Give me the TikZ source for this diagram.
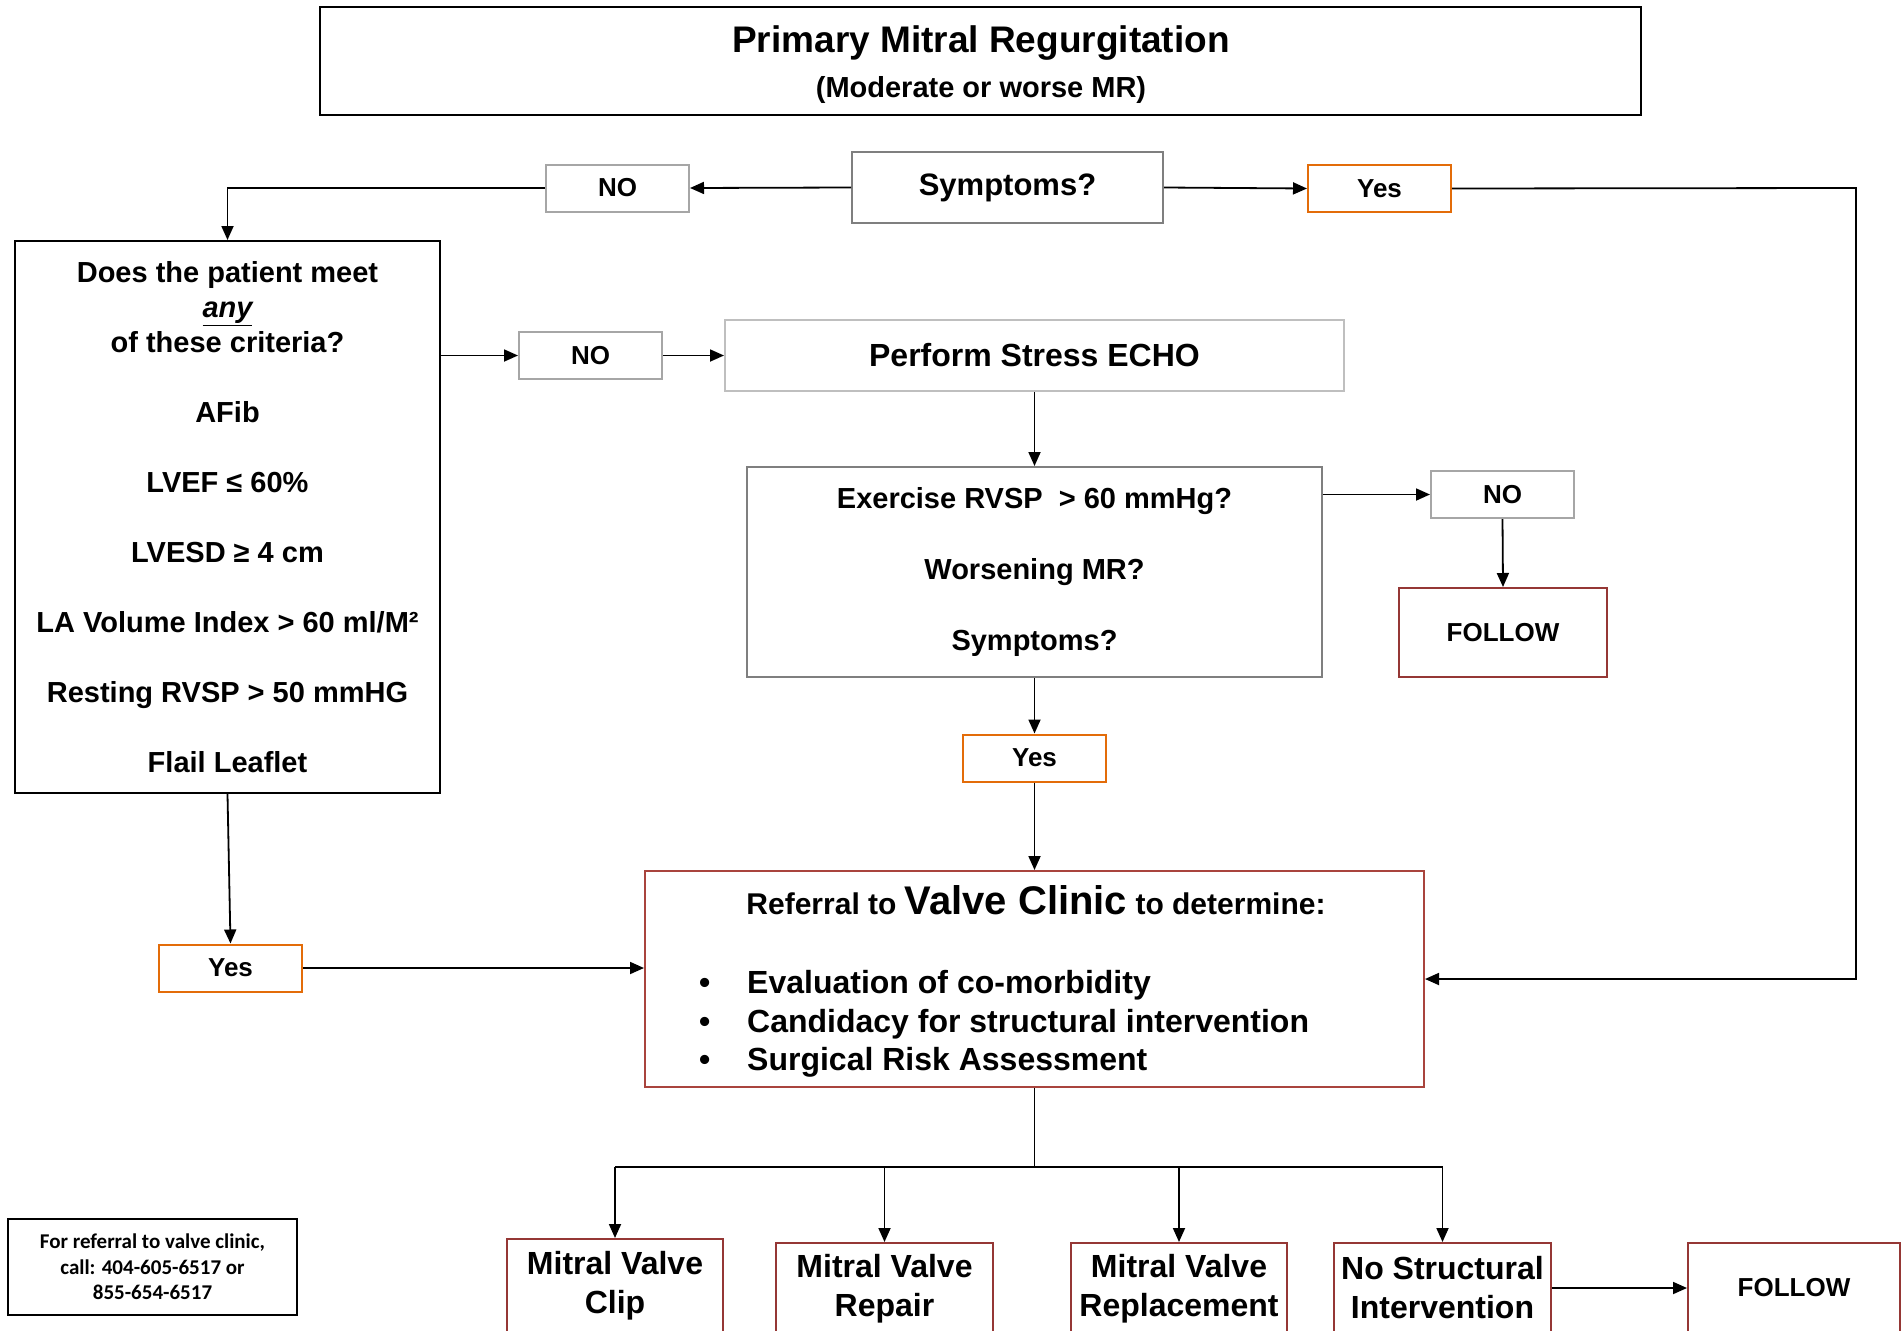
\documentclass[tikz,border=0pt]{standalone}
\usepackage{fontspec}
\setmainfont{Liberation Sans}
\newfontfamily\phonefont{Carlito}
\usetikzlibrary{arrows.meta}
\definecolor{orng}{HTML}{E36C09}
\definecolor{dred}{HTML}{953735}
\definecolor{rred}{HTML}{A9443D}
\definecolor{gmid}{HTML}{7F7F7F}
\definecolor{glight}{HTML}{A6A6A6}
\definecolor{glighter}{HTML}{BFBFBF}
\newcommand\fsz[2]{\fontsize{#1}{#2}\selectfont}
\begin{document}
\begin{tikzpicture}[x=1pt,y=-1pt,
  box/.style={draw, line width=2pt, inner sep=0pt, align=center, font=\bfseries},
  blackbox/.style={box, draw=black},
  graybox/.style={box, draw=gmid},
  lgraybox/.style={box, draw=glight},
  llgraybox/.style={box, draw=glighter},
  orangebox/.style={box, draw=orng},
  redbox/.style={box, draw=dred},
  refbox/.style={box, draw=rred},
  small/.style={minimum width=143pt, minimum height=47pt, font=\bfseries\fsz{26}{31}},
  txt/.style={inner sep=0pt, align=center, font=\bfseries},
  arr/.style={line width=1.8pt, -{Triangle[length=14pt,width=12pt]}},
  ln/.style={line width=1.8pt}
]
\useasboundingbox (0,0) rectangle (1902,1330);
\clip (0,0) rectangle (1902,1330);

% title
\node[blackbox, minimum width=1321pt, minimum height=108pt] (title) at (980.5,61) {};
\node[txt, font=\bfseries\fsz{29}{45}] (titletext) at (981,65)
  {{\fsz{37}{45}Primary Mitral Regurgitation}\\(Moderate or worse MR)};

% top row
\node[graybox, minimum width=311pt, minimum height=71pt, font=\bfseries\fsz{31}{37}] (sym) at (1007.5,187.5) {Symptoms?};
\node[lgraybox, small] (no1) at (617.5,188) {NO};
\node[orangebox, small] (yes1) at (1379.5,188.5) {Yes};

% criteria box
\node[blackbox, minimum width=425pt, minimum height=552pt, font=\bfseries\fsz{29}{35}] (crit) at (227.5,517)
  {Does the patient meet\\\underline{\itshape any}\\of these criteria?\\[35pt]
   AFib\\[35pt]LVEF ≤ 60\%\\[35pt]LVESD ≥ 4 cm\\[35pt]LA Volume Index > 60 ml/M²\\[35pt]
   Resting RVSP > 50 mmHG\\[35pt]Flail Leaflet};

\node[lgraybox, small] (no2) at (590.5,355.5) {NO};
\node[llgraybox, minimum width=619pt, minimum height=71pt, font=\bfseries\fsz{32}{38}] (perf) at (1034.5,355.5) {Perform Stress ECHO};

\node[graybox, minimum width=575pt, minimum height=210pt, font=\bfseries\fsz{29}{35}] (ex) at (1034.5,572)
  {Exercise RVSP \ > 60 mmHg?\\[36pt]Worsening MR?\\[36pt]Symptoms?};

\node[lgraybox, small] (no3) at (1502.5,494.5) {NO};
\node[redbox, minimum width=208pt, minimum height=89pt, font=\bfseries\fsz{26}{31}] (fol1) at (1503,632.5) {FOLLOW};

\node[orangebox, small] (yes2) at (1034.5,758) {Yes};
\node[orangebox, small] (yes3) at (230.5,968) {Yes};

% referral
\node[refbox, minimum width=779pt, minimum height=216pt] (ref) at (1034.5,979) {};
\node[txt] (refhead) at (1036,900)
  {{\fsz{30}{36}Referral to }{\fsz{40}{48}Valve Clinic}{\fsz{30}{36} to determine:}};
\node[txt, align=left, anchor=west, font=\bfseries\fsz{32}{38.5}] (reflist) at (699,1024)
  {\makebox[48pt][l]{\textbullet}Evaluation of co-morbidity\\
   \makebox[48pt][l]{\textbullet}Candidacy for structural intervention\\
   \makebox[48pt][l]{\textbullet}Surgical Risk Assessment};

% phone
\node[blackbox, minimum width=289pt, minimum height=96pt, font=\phonefont\bfseries\fsz{21}{25.5}] (phone) at (152.5,1267)
  {For referral to valve clinic,\\call: 404-605-6517 or\\855-654-6517};

% bottom boxes
\node[redbox, minimum width=216pt, minimum height=150pt, anchor=north] (clipbox) at (615,1238) {};
\node[txt, font=\bfseries\fsz{32}{39}] (cliptext) at (615,1285.5) {Mitral Valve\\Clip};
\node[redbox, minimum width=217pt, minimum height=150pt, anchor=north] (repbox) at (884.5,1242) {};
\node[txt, font=\bfseries\fsz{32}{39}] (reptext) at (884.5,1288.5) {Mitral Valve\\Repair};
\node[redbox, minimum width=216pt, minimum height=150pt, anchor=north] (rplbox) at (1179,1242) {};
\node[txt, font=\bfseries\fsz{32}{39}] (rpltext) at (1179,1288.5) {Mitral Valve\\Replacement};
\node[redbox, minimum width=217pt, minimum height=150pt, anchor=north] (nsbox) at (1442.5,1242) {};
\node[txt, font=\bfseries\fsz{32}{39}] (nstext) at (1442.5,1287.5) {No Structural\\Intervention};
\node[redbox, minimum width=212pt, minimum height=150pt, anchor=north] (fbbox) at (1794,1242) {};
\node[txt, font=\bfseries\fsz{26}{31}] (fbtext) at (1794,1288) {FOLLOW};

\coordinate (rt) at (1856,188);
\coordinate (jn) at (1034.5,1167);

% connectors
\draw[arr] (sym.west) -- (no1.east);
\draw[arr] (no1.west) -| (crit.north);
\draw[arr] (sym.east) -- (yes1.west);
\draw[arr] (yes1.east) -- (rt) |- (ref.east);
\draw[arr] (no2.west -| crit.east) -- (no2.west);
\draw[arr] (no2.east) -- (perf.west);
\draw[arr] (perf.south) -- (ex.north);
\draw[arr] (no3.west -| ex.east) -- (no3.west);
\draw[arr] (no3.south) -- (fol1.north);
\draw[arr] (ex.south) -- (yes2.north);
\draw[arr] (yes2.south) -- (ref.north);
\draw[arr] (crit.south) -- (yes3.north);
\draw[arr] (yes3.east) -- (yes3.east -| ref.west);
\draw[ln] (ref.south) -- (jn);
\draw[ln] (clipbox.north |- jn) -- (nsbox.north |- jn);
\draw[arr] (clipbox.north |- jn) -- (clipbox.north);
\draw[arr] (repbox.north |- jn) -- (repbox.north);
\draw[arr] (rplbox.north |- jn) -- (rplbox.north);
\draw[arr] (nsbox.north |- jn) -- (nsbox.north);
\draw[arr] (nsbox.east |- fbtext) -- (fbbox.west |- fbtext);
\end{tikzpicture}
\end{document}
